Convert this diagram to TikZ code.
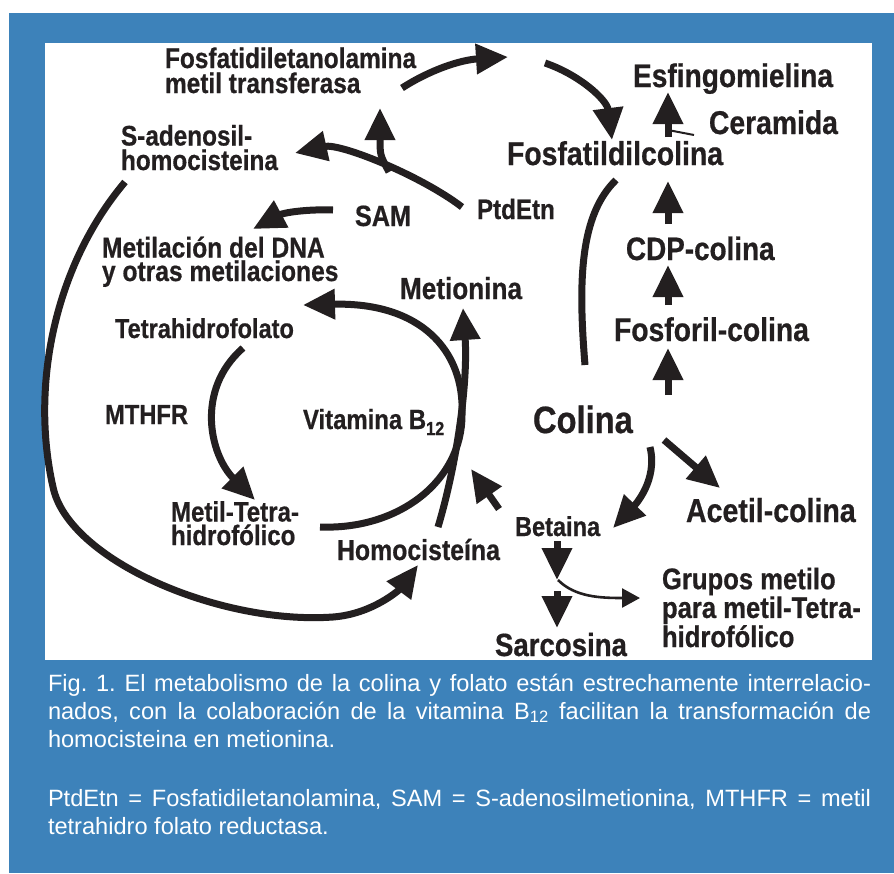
\documentclass[tikz,border=0pt]{standalone}
\usepackage{fontspec}
\usepackage{xcolor}
\usepackage{tikz}
\usetikzlibrary{arrows.meta}
\newfontfamily\dfont[FakeStretch=0.86,BoldFeatures={FakeBold=0.6}]{Liberation Sans}
\newfontfamily\cfont{Liberation Sans}
\newcommand{\fsz}[2]{\fontsize{#1}{#2}\selectfont}
\definecolor{panelblue}{RGB}{61,130,186}
\definecolor{ink}{RGB}{35,31,32}

\begin{document}
\begin{tikzpicture}[x=1pt,y=-1pt,inner sep=0pt,outer sep=0pt]
  \tikzstyle{lab}=[anchor=base west, text=ink, align=left]
  \tikzstyle{flow}=[draw=ink, line width=7pt, -{Triangle[length=32pt,width=29pt]}]
  \tikzstyle{bar}=[draw=ink, line width=7pt]
  \tikzstyle{thinflow}=[draw=ink, line width=2.6pt, -{Triangle[length=18pt,width=19pt]}]
  \tikzstyle{figtext}=[anchor=base west, text=white, text width=823pt, align=justify,
                   font=\cfont\fsz{23.6}{28}\frenchspacing]

  \useasboundingbox (0,0) rectangle (894,873);
  \fill[panelblue] (9,13) rectangle (894,873);
  \fill[white] (45,43) rectangle (872,660);

  % labels (multi-line ones sit on their last line)
  \node[lab, font=\dfont\bfseries\fsz{28.4}{25}] (fe) at (165,93) {Fosfatidiletanolamina\\metil transferasa};
  \node[lab, font=\dfont\bfseries\fsz{28.3}{24.5}] (sah) at (121,170) {S-adenosil-\\homocisteina};
  \node[lab, font=\dfont\bfseries\fsz{29.3}{29}] (sam) at (355,226) {SAM};
  \node[lab, font=\dfont\bfseries\fsz{28.6}{23.5}] (dna) at (102,281) {Metilación del DNA\\y otras metilaciones};
  \node[lab, font=\dfont\bfseries\fsz{28.1}{28}] (ptd) at (477,219) {PtdEtn};
  \node[lab, font=\dfont\bfseries\fsz{33}{33}] (fc) at (507,165) {Fosfatildilcolina};
  \node[lab, font=\dfont\bfseries\fsz{32.7}{33}] (esf) at (633,87) {Esfingomielina};
  \node[lab, font=\dfont\bfseries\fsz{32.9}{33}] (cer) at (709,134) {Ceramida};
  \node[lab, font=\dfont\bfseries\fsz{32.4}{33}] (cdp) at (626,260) {CDP-colina};
  \node[lab, font=\dfont\bfseries\fsz{32.9}{33}] (fos) at (614,341) {Fosforil-colina};
  \node[lab, font=\dfont\bfseries\fsz{38}{38}] (col) at (533,433) {Colina};
  \node[lab, font=\dfont\bfseries\fsz{33.2}{33}] (ace) at (686,522) {Acetil-colina};
  \node[lab, font=\dfont\bfseries\fsz{27.4}{27}] (bet) at (515,536) {Betaina};
  \node[lab, font=\dfont\bfseries\fsz{32.1}{32}] (sar) at (495,656) {Sarcosina};
  \node[lab, font=\dfont\bfseries\fsz{29.8}{27.5}] (gru) at (662,647) {Grupos metilo\\para metil-Tetra-\\hidrofólico};
  \node[lab, font=\dfont\bfseries\fsz{30.4}{30}] (mtn) at (400,299) {Metionina};
  \node[lab, font=\dfont\bfseries\fsz{27.4}{27}] (thf) at (115,338) {Tetrahidrofolato};
  \node[lab, font=\dfont\bfseries\fsz{27.6}{27}] (mthfr) at (105,424) {MTHFR};
  \node[lab, font=\dfont\bfseries\fsz{27.8}{27}] (vit) at (303,429) {Vitamina B\raisebox{-0.22em}{\fsz{19}{19}12}};
  \node[lab, font=\dfont\bfseries\fsz{28}{23.5}] (mth) at (171,545) {Metil-Tetra-\\hidrofólico};
  \node[lab, font=\dfont\bfseries\fsz{28.9}{29}] (hom) at (337,560) {Homocisteína};

  % caption
  \node[figtext] (cap1) at (48,691) {Fig. 1. El metabolismo de la colina y folato están estrechamente interrelacio-\linebreak
    nados, con la colaboración de la vitamina B\textsubscript{12} facilitan la transformación de\linebreak
    homocisteina en metionina.};
  \node[figtext] (cap2) at (48,806) {PtdEtn = Fosfatidiletanolamina, SAM = S-adenosilmetionina, MTHFR = metil\linebreak
    tetrahidro folato reductasa.};

  % connector ends
  \coordinate (a0) at (125,182);  \coordinate (a1) at (418,565);
  \coordinate (b0) at (333,210);  \coordinate (b1) at (253,229);
  \coordinate (c0) at (462,207);  \coordinate (c1) at (295,153);
  \coordinate (c2) at (389,172);  \coordinate (c3) at (380,108);
  \coordinate (d0) at (402,88);   \coordinate (d1) at (508,57);
  \coordinate (e0) at (545,63);   \coordinate (e1) at (612,140);
  \coordinate (f0) at (668,137);  \coordinate (f1) at (668,92);
  \coordinate (r0) at (668,130);  \coordinate (r1) at (694,135);
  \coordinate (g0) at (668,224);  \coordinate (g1) at (668,181);
  \coordinate (h0) at (668,305);  \coordinate (h1) at (668,265);
  \coordinate (i0) at (668,395);  \coordinate (i1) at (668,348);
  \coordinate (j0) at (585,365);  \coordinate (j1) at (616,180);
  \coordinate (k0) at (664,440);  \coordinate (k1) at (720,488);
  \coordinate (l0) at (650,447);  \coordinate (l1) at (613,528);
  \coordinate (m0) at (499,509);  \coordinate (m1) at (471,469);
  \coordinate (n0) at (557,541);  \coordinate (n1) at (557,580);
  \coordinate (n2) at (557,591);  \coordinate (n3) at (557,628);
  \coordinate (t0) at (558,580);  \coordinate (t1) at (640,598);
  \coordinate (o0) at (438,527);  \coordinate (o1) at (463,308);
  \coordinate (p0) at (320,527);  \coordinate (p1) at (303,305);
  \coordinate (q0) at (243,348);  \coordinate (q1) at (255,500);

  % connectors
  \draw[flow] (a0) .. controls (55,265) and (30,385) .. (53,487)
              .. controls (68,560) and (220,625) .. (333,617)
              .. controls (373,614) and (400,589) .. (a1);
  \draw[flow] (b0) .. controls (305,209) and (283,213) .. (b1);
  \draw[flow] (c0) .. controls (420,175) and (340,143) .. (c1);
  \draw[flow] (c2) .. controls (380,155) .. (c3);
  \draw[flow] (d0) .. controls (430,70) and (460,60) .. (d1);
  \draw[flow] (e0) .. controls (580,75) and (607,100) .. (e1);
  \draw[flow] (f0) -- (f1);
  \draw[draw=ink, line width=2pt] (r0) -- (r1);
  \draw[flow] (g0) -- (g1);
  \draw[flow] (h0) -- (h1);
  \draw[flow] (i0) -- (i1);
  \draw[bar] (j0) .. controls (578,280) and (580,215) .. (j1);
  \draw[flow] (k0) -- (k1);
  \draw[flow] (l0) .. controls (658,480) and (635,505) .. (l1);
  \draw[flow] (m0) -- (m1);
  \draw[flow] (n0) -- (n1);
  \draw[flow] (n2) -- (n3);
  \draw[thinflow] (t0) .. controls (575,597) and (600,598) .. (t1);
  \draw[flow] (o0) .. controls (458,460) and (468,380) .. (o1);
  \draw[flow] (p0) .. controls (400,530) and (462,480) .. (462,415)
              .. controls (465,350) and (420,302) .. (p1);
  \draw[flow] (q0) .. controls (195,390) and (210,455) .. (q1);
\end{tikzpicture}
\end{document}
